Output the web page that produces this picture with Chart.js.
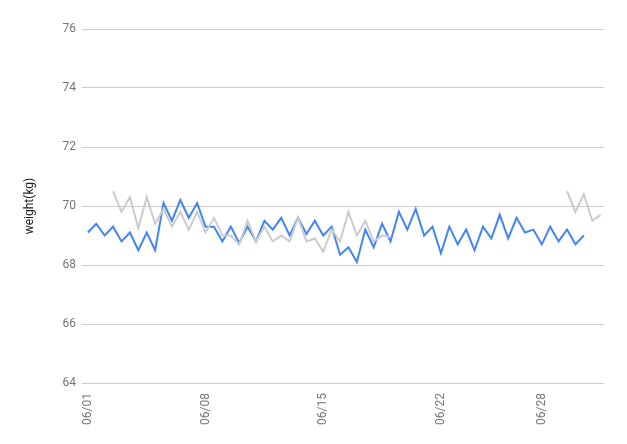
<!DOCTYPE html>
<html>
<head>
<meta charset="utf-8">
<script src="https://cdn.jsdelivr.net/npm/chart.js@4.4.1/dist/chart.umd.min.js"></script>
<style>
    html, body { margin: 0; padding: 0; background: #ffffff; }
    #wrap { width: 627px; height: 444px; }
</style>
</head>
<body>
<div id="wrap"><canvas id="chart"></canvas></div>
<script>
// two readings per day, 06/01 .. 07/01
const dates = [];
for (let d = 1; d <= 31; d++) {
    const label = d <= 30 ? '06/' + String(d).padStart(2, '0') : '07/01';
    dates.push(label, label);
}

const tickIndexes = [0, 14, 28, 42, 54];

const blueWeights = [
    69.1, 69.4, 69.0, 69.3, 68.8, 69.1, 68.5, 69.1, 68.5, 70.1,
    69.5, 70.2, 69.6, 70.1, 69.3, 69.3, 68.8, 69.3, 68.75, 69.3,
    68.8, 69.5, 69.2, 69.6, 69.0, 69.6, 69.05, 69.5, 69.0, 69.3,
    68.35, 68.6, 68.1, 69.2, 68.6, 69.4, 68.8, 69.8, 69.2, 69.9,
    69.0, 69.3, 68.4, 69.3, 68.7, 69.2, 68.5, 69.3, 68.9, 69.7,
    68.9, 69.6, 69.1, 69.2, 68.7, 69.3, 68.8, 69.2, 68.7, 69.0,
    null, null
];

const grayWeights = [
    null, null, null, 70.5, 69.8, 70.3, 69.25, 70.3, 69.4, 69.9,
    69.3, 69.8, 69.2, 69.8, 69.1, 69.6, 69.0, 69.0, 68.7, 69.5,
    68.8, 69.3, 68.8, 69.0, 68.8, 69.6, 68.8, 68.9, 68.45, 69.2,
    68.8, 69.8, 69.0, 69.5, 68.8, 69.0, 68.95, null, null, null,
    null, null, null, null, null, null, null, null, null, null,
    null, null, null, null, null, null, null, 70.5, 69.8, 70.4,
    69.5, 69.7
];

function toPoints(values) {
    return values.map((v, i) => ({ x: i, y: v }));
}

const ctx = document.getElementById('chart').getContext('2d');
new Chart(ctx, {
    type: 'line',
    data: {
        datasets: [{
            data: toPoints(grayWeights),
            borderColor: '#cccccc',
            borderWidth: 2,
            pointRadius: 0,
            tension: 0,
            spanGaps: false
        }, {
            data: toPoints(blueWeights),
            borderColor: '#4285f4',
            borderWidth: 2,
            pointRadius: 0,
            tension: 0,
            spanGaps: false
        }]
    },
    options: {
        responsive: true,
        maintainAspectRatio: false,
        animation: false,
        layout: { padding: { top: 29, right: 23, left: 0, bottom: 0 } },
        plugins: {
            legend: { display: false },
            tooltip: { enabled: false }
        },
        scales: {
            x: {
                type: 'linear',
                min: -0.7,
                max: 61.4,
                grid: { display: false },
                border: { display: false },
                afterBuildTicks: axis => {
                    axis.ticks = tickIndexes.map(i => ({ value: i }));
                },
                afterFit: axis => { axis.height = 61; },
                ticks: {
                    autoSkip: false,
                    maxRotation: 90,
                    minRotation: 90,
                    padding: 2,
                    color: '#757575',
                    font: { family: 'Roboto', size: 12 },
                    callback: value => dates[value]
                }
            },
            y: {
                min: 64,
                max: 76,
                afterFit: axis => { axis.width = 82; },
                grid: { color: '#cccccc', drawTicks: false, lineWidth: 1 },
                border: { display: false },
                ticks: {
                    stepSize: 2,
                    padding: 6,
                    color: '#757575',
                    font: { family: 'Roboto', size: 12 }
                },
                title: {
                    display: true,
                    text: 'weight(kg)',
                    color: '#222222',
                    font: { family: 'Roboto', size: 12 },
                    padding: { top: 23, bottom: 0 }
                }
            }
        }
    }
});
</script>
</body>
</html>
